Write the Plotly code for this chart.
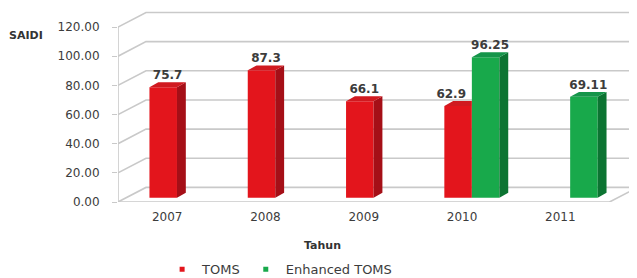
import plotly.graph_objects as go

# ---- data ----
years = ["2007", "2008", "2009", "2010", "2011"]
toms = [75.7, 87.3, 66.1, 62.9, None]
enhanced = [None, None, None, 96.25, 69.11]
toms_text = ["75.7", "87.3", "66.1", "62.9", None]
enhanced_text = [None, None, None, "96.25", "69.11"]
y_ticks = [0, 20, 40, 60, 80, 100, 120]

# ---- style / geometry ----
FONT = "DejaVu Sans"
RED, RED_SIDE, RED_TOP = "#E3151C", "#A50F17", "#D01A20"
GRN, GRN_SIDE, GRN_TOP = "#18A94B", "#0C7432", "#15954A"
GRID = "#C9C9C9"
DX, DY = 0.285, 10.0      # depth of the 3D box (x cats, y units)
BX, BY = 0.09, 3.4        # depth of each bar
BASE = 3.0                # bars sit slightly behind the front plane
X0, X1 = -0.5, 4.78
RED_OFF, GRN_OFF, W = -0.18, 0.10, 0.28

idx = list(range(len(years)))

fig = go.Figure()

# front faces
fig.add_trace(go.Bar(x=idx, y=toms, base=BASE, offset=RED_OFF, width=W,
                     marker=dict(color=RED, line=dict(width=0)), showlegend=False,
                     hoverinfo="skip"))
fig.add_trace(go.Bar(x=idx, y=enhanced, base=BASE, offset=GRN_OFF, width=W,
                     marker=dict(color=GRN, line=dict(width=0)), showlegend=False,
                     hoverinfo="skip"))


def faces(vals, off, other=None):
    sx, sy, tx, ty = [], [], [], []
    for i, v in enumerate(vals):
        if v is None:
            continue
        xl = i + off
        xr = xl + W
        top = BASE + v
        occluded = other is not None and other[i] is not None
        if not occluded:
            sx += [xr, xr + BX, xr + BX, xr, xr, None]
            sy += [BASE, BASE + BY, top + BY, top, BASE, None]
            tx += [xl, xl + BX, xr + BX, xr, xl, None]
        else:
            tx += [xl, xl + BX, xr, xr, xl, None]
        ty += [top, top + BY, top + BY, top, top, None]
    return sx, sy, tx, ty


for vals, off, other, cs, ct in [(toms, RED_OFF, enhanced, RED_SIDE, RED_TOP),
                                 (enhanced, GRN_OFF, None, GRN_SIDE, GRN_TOP)]:
    sx, sy, tx, ty = faces(vals, off, other)
    if sx:
        fig.add_trace(go.Scatter(x=sx, y=sy, fill="toself", fillcolor=cs, mode="lines",
                                 line=dict(width=0, color=cs), showlegend=False,
                                 hoverinfo="skip"))
    fig.add_trace(go.Scatter(x=tx, y=ty, fill="toself", fillcolor=ct, mode="lines",
                             line=dict(width=0, color=ct), showlegend=False,
                             hoverinfo="skip"))

# value labels
for vals, txt, off, other in [(toms, toms_text, RED_OFF, enhanced),
                              (enhanced, enhanced_text, GRN_OFF, None)]:
    lx, ly, lt = [], [], []
    for i, v in enumerate(vals):
        if v is None:
            continue
        occluded = other is not None and other[i] is not None
        lx.append(i + off + (W / 2 - 0.07 if occluded else (W + BX) / 2))
        ly.append(BASE + v + BY)
        lt.append(txt[i])
    fig.add_trace(go.Scatter(x=lx, y=ly, text=lt, mode="text", textposition="top center",
                             textfont=dict(family=FONT, size=12, color="#3C3C3C",
                                           weight="bold"),
                             showlegend=False, hoverinfo="skip", cliponaxis=False))

# legend entries
fig.add_trace(go.Scatter(x=[None], y=[None], mode="markers", name="TOMS",
                         marker=dict(symbol="square", size=5, color=RED)))
fig.add_trace(go.Scatter(x=[None], y=[None], mode="markers", name="Enhanced TOMS",
                         marker=dict(symbol="square", size=5, color=GRN)))

# 3D box lines (walls & floor)
shapes = []
for v in y_ticks:
    shapes.append(dict(type="path", xref="x", yref="y", layer="below",
                       path=f"M {X0},{v} L {X0 + DX},{v + DY} L {X1},{v + DY}",
                       line=dict(color=GRID, width=1.6)))
shapes.append(dict(type="path", xref="x", yref="y", layer="below",
                   path=f"M {X0},0 L {len(years) - 0.5},0 L {len(years) - 0.5 + DX},{DY}",
                   line=dict(color=GRID, width=1.6)))
shapes.append(dict(type="path", xref="x", yref="y", layer="below",
                   path=f"M {X0},0 L {X0},{y_ticks[-1]}",
                   line=dict(color=GRID, width=1.6)))

# the page body has an 8px margin, so the figure is 8px smaller each way
fig.update_layout(
    width=629, height=270,
    margin=dict(l=110, r=0, t=2, b=76, autoexpand=False),
    paper_bgcolor="white", plot_bgcolor="white",
    barmode="overlay",
    font=dict(family=FONT, size=12, color="#3C3C3C"),
    shapes=shapes,
    showlegend=True,
    legend=dict(orientation="h", x=0.085, y=-0.35, xanchor="left", yanchor="middle",
                font=dict(family=FONT, size=13, color="#3C3C3C"),
                itemwidth=30, tracegroupgap=0, bgcolor="rgba(0,0,0,0)"),
    xaxis=dict(range=[X0, X1], tickmode="array", tickvals=idx, ticktext=years,
               showgrid=False, zeroline=False, showline=False, ticks="",
               automargin=False, ticklabelstandoff=6,
               tickfont=dict(family=FONT, size=12, color="#3C3C3C"), fixedrange=True),
    yaxis=dict(range=[0, 131.7], tickmode="array", tickvals=y_ticks, tickformat=".2f",
               showgrid=False, zeroline=False, showline=False, ticks="outside",
               ticklen=5, tickcolor=GRID, ticklabelstandoff=10, automargin=False,
               tickfont=dict(family=FONT, size=12, color="#3C3C3C"), fixedrange=True),
    annotations=[
        dict(text="<b>SAIDI</b>", xref="paper", yref="paper", x=(26 - 118) / 519,
             y=(202 - 36) / 192, showarrow=False, xanchor="center", yanchor="middle",
             font=dict(family=FONT, size=11, color="#333333")),
        dict(text="<b>Tahun</b>", xref="paper", yref="paper", x=(322 - 118) / 519,
             y=(202 - 245) / 192, showarrow=False, xanchor="center", yanchor="middle",
             font=dict(family=FONT, size=11, color="#333333")),
    ],
)

fig.write_html("out.html")
